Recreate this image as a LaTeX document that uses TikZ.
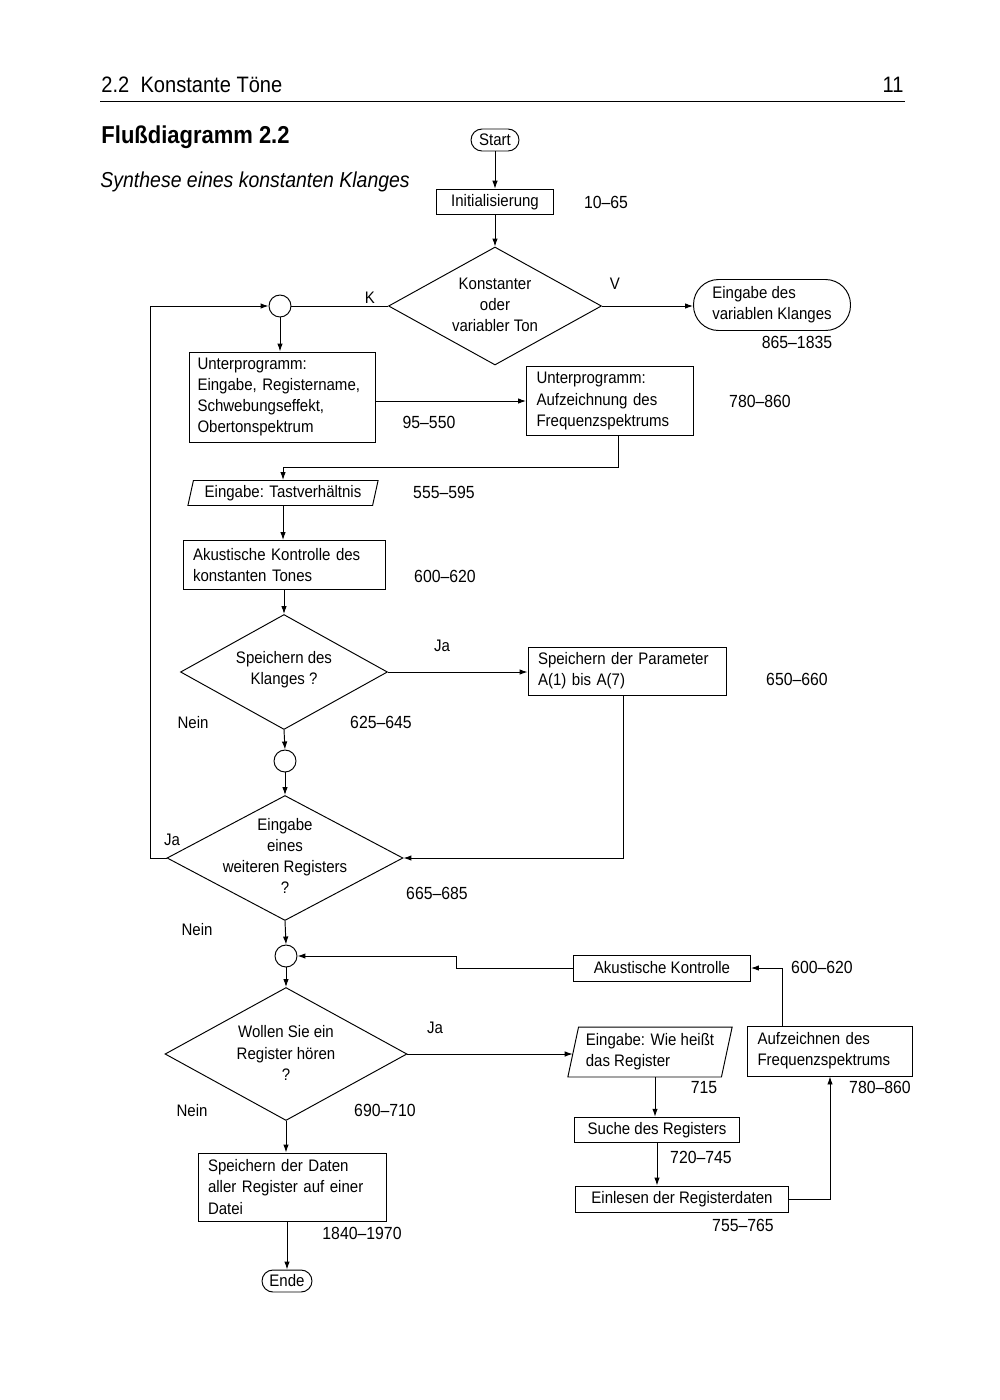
\documentclass[tikz,border=0pt]{standalone}
\usepackage{fontspec}
\setmainfont{Liberation Sans}[FakeStretch=0.9]
\usetikzlibrary{arrows.meta,positioning,calc,shapes.geometric}
\hyphenpenalty=10000
\exhyphenpenalty=10000

\tikzset{
  box/.style={draw, inner xsep=0.2cm, inner ysep=0.1cm, align=left},
  io/.style={draw, trapezium, trapezium left angle=76, trapezium right angle=104,
    trapezium stretches=true, inner xsep=0.1cm, inner ysep=0.05cm, align=left},
  decision/.style={draw, diamond, inner sep=0pt},
  term/.style={draw, rectangle, inner sep=0.05cm, align=left},
  joint/.style={draw, circle, minimum size=0.44cm, inner sep=0pt},
  flow/.style={-{Latex[length=1.6mm,width=1.1mm]}},
  txt/.style={inner sep=0pt},
  nr/.style={inner sep=0pt, font=\fontsize{10}{12}\selectfont},
}

\begin{document}
\begin{tikzpicture}[x=0.02cm, y=-0.02cm, font=\fontsize{9.5}{12}\selectfont, line width=0.55pt]
    \useasboundingbox (0,0) rectangle (1000,1400);

    % page head
    \node[txt, anchor=west, font=\fontsize{12.7}{14}\selectfont] (kopf) at (101,85) {2.2\enspace Konstante Töne};
    \node[txt, anchor=east, font=\fontsize{12.7}{14}\selectfont] (seite) at (904,85) {11};
    \draw (100,101) -- (905,101);
    \node[txt, anchor=west, font=\fontsize{13.9}{15}\selectfont\bfseries] (titel) at (101,137) {Flußdiagramm 2.2};
    \node[txt, anchor=west, font=\fontsize{12.3}{14}\selectfont\itshape] (untertitel) at (100,182) {Synthese eines konstanten Klanges};

    % start and first choice
    \node[term, minimum width=0.96cm, minimum height=0.44cm, rounded corners=0.22cm] (start) at (495,140) {Start};
    \node[box, minimum width=2.34cm, minimum height=0.5cm, align=center] (init) at (495,202) {Initialisierung};
    \node[nr] (z1) at (606,202) {10--65};
    \node[decision, minimum width=4.26cm, minimum height=2.36cm] (d1) at (495,306) {};
    \node[txt, align=center] (d1t) at (495,305) {Konstanter\\oder\\variabler Ton};
    \node[txt] (k) at (370,298) {K};
    \node[txt] (v) at (615,284) {V};
    \node[joint] (c1) at (280,306) {};
    \node[term, minimum width=3.14cm, minimum height=1.02cm, rounded corners=0.5cm] (var) at (772,305) {Eingabe des\\variablen Klanges};
    \node[nr] (z2) at (797,342) {865--1835};

    % subprograms
    \node[box, text width=3.38cm, inner xsep=0.17cm, minimum height=1.8cm] (up1) at (282,397) {Unterprogramm:\\Eingabe, Registername,\\Schwebungseffekt,\\Obertonspektrum};
    \node[box, text width=2.94cm, minimum height=1.38cm] (up2) at (610,401) {Unterprogramm:\\Aufzeichnung des\\Frequenzspektrums};
    \node[nr] (z3) at (429,422) {95--550};
    \node[nr] (z4) at (760,401) {780--860};

    % constant tone
    \node[io, minimum width=3.82cm, minimum height=0.5cm] (tast) at (283,493) {Eingabe: Tastverhältnis};
    \node[nr] (z5) at (444,492) {555--595};
    \node[box, text width=3.64cm, minimum height=0.98cm] (akk1) at (284,565) {Akustische Kontrolle des\\konstanten Tones};
    \node[nr] (z6) at (445,576) {600--620};
    \node[decision, minimum width=4.14cm, minimum height=2.3cm] (d2) at (284,672) {};
    \node[txt, align=center] (d2t) at (284,670) {Speichern des\\Klanges ?};
    \node[txt] (ja1) at (442,646) {Ja};
    \node[txt] (nein1) at (193,723) {Nein};
    \node[nr] (z7) at (381,722) {625--645};
    \node[box, text width=3.56cm, minimum height=0.96cm] (par) at (627,671) {Speichern der Parameter\\A(1) bis A(7)};
    \node[nr] (z8) at (797,679) {650--660};
    \node[joint] (c2) at (285,761) {};
    \node[decision, minimum width=4.72cm, minimum height=2.5cm] (d3) at (285,858) {};
    \node[txt, align=center] (d3t) at (285,856) {Eingabe\\eines\\weiteren Registers\\?};
    \node[txt] (ja2) at (172,840) {Ja};
    \node[nr] (z9) at (437,893) {665--685};
    \node[txt] (nein2) at (197,930) {Nein};

    % listening to registers
    \node[joint] (c3) at (286,956) {};
    \node[decision, minimum width=4.84cm, minimum height=2.66cm] (d4) at (286,1054) {};
    \node[txt, align=center] (d4t) at (286,1053) {Wollen Sie ein\\Register hören\\?};
    \node[txt] (ja3) at (435,1028) {Ja};
    \node[txt] (nein3) at (192,1111) {Nein};
    \node[nr] (z10) at (385,1110) {690--710};
    \node[box, text width=3.36cm, minimum height=1.36cm] (spd) at (292,1187) {Speichern der Daten\\aller Register auf einer\\Datei};
    \node[nr] (z11) at (362,1233) {1840--1970};
    \node[term, minimum width=1cm, minimum height=0.44cm, rounded corners=0.22cm] (ende) at (287,1281) {Ende};

    \node[io, minimum width=3.3cm, minimum height=1cm] (wie) at (650,1052) {Eingabe: Wie heißt\\das Register};
    \node[nr] (z12) at (704,1088) {715};
    \node[box, minimum width=3.3cm, minimum height=0.5cm, align=center] (such) at (657,1130) {Suche des Registers};
    \node[nr] (z13) at (701,1157) {720--745};
    \node[box, minimum width=4.26cm, minimum height=0.52cm, align=center] (einl) at (682,1199) {Einlesen der Registerdaten};
    \node[nr] (z14) at (743,1225) {755--765};
    \node[box, text width=2.9cm, minimum height=1cm] (auf) at (830,1051) {Aufzeichnen des\\Frequenzspektrums};
    \node[nr] (z15) at (880,1087) {780--860};
    \node[box, minimum width=3.54cm, minimum height=0.52cm, align=center] (akk2) at (662,968) {Akustische Kontrolle};
    \node[nr] (z16) at (822,967) {600--620};

    % connectors
    \draw[flow] (start) -- (init);
    \draw[flow] (init) -- (d1);
    \draw (d1.west) -- (c1.east);
    \draw[flow] (d1.east) -- (var.west |- d1.east);
    \draw[flow] (c1.south) -- (c1.south |- up1.north);
    \draw[flow] (up2.west -| up1.east) -- (up2.west);
    \draw[flow] ([xshift=0.16cm]up2.south) -- ++(0,31) -| (tast.north);
    \draw[flow] (tast.south) -- (tast.south |- akk1.north);
    \draw[flow] (akk1.south) -- (d2.north);
    \draw[flow] (d2.east) -- (par.west |- d2.east);
    \draw[flow] (d2.south) -- (c2.north);
    \draw[flow] (c2.south) -- (d3.north);
    \draw[flow] ([xshift=-0.08cm]par.south) |- (d3.east);
    \draw[flow] (d3.west) -- ++(-16,0) |- (c1.west);
    \draw[flow] (d3.south) -- (c3.north);
    \draw[flow] (c3.south) -- (d4.north);
    \draw[flow] (d4.east) -- (wie.west |- d4.east);
    \draw[flow] ([xshift=0.1cm]wie.south) -- ([xshift=0.1cm]wie.south |- such.north);
    \draw[flow] (such.south) -- (such.south |- einl.north);
    \draw[flow] (einl.east) -| (auf.south);
    \draw[flow] ([xshift=-0.96cm]auf.north) |- (akk2.east);
    \draw[flow] (akk2.west) -- ++(-117,0) |- (c3.east);
    \draw[flow] (d4.south) -- (d4.south |- spd.north);
    \draw[flow] (ende.north |- spd.south) -- (ende.north);
\end{tikzpicture}
\end{document}
